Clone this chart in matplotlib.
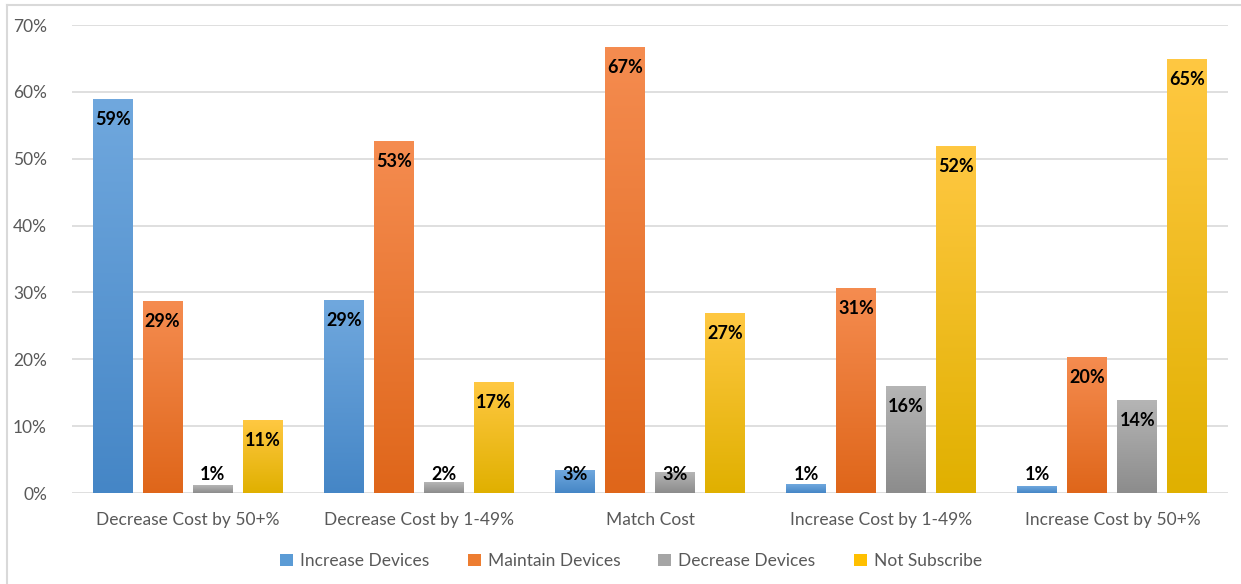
import numpy as np
import matplotlib
matplotlib.use("Agg")
import matplotlib.pyplot as plt
from matplotlib.colors import LinearSegmentedColormap
from matplotlib.patches import Patch
from matplotlib.lines import Line2D

plt.rcParams['font.family'] = ['Lato', 'DejaVu Sans']

# data (fractions)
categories = ["Decrease Cost by 50+%", "Decrease Cost by 1-49%", "Match Cost",
              "Increase Cost by 1-49%", "Increase Cost by 50+%"]
series_names = ["Increase Devices", "Maintain Devices", "Decrease Devices", "Not Subscribe"]
increase_devices = [0.589, 0.288, 0.033, 0.012, 0.009]
maintain_devices = [0.287, 0.526, 0.666, 0.306, 0.202]
decrease_devices = [0.011, 0.015, 0.031, 0.160, 0.138]
not_subscribe = [0.108, 0.166, 0.268, 0.519, 0.648]
labels_increase = ["59%", "29%", "3%", "1%", "1%"]
labels_maintain = ["29%", "53%", "67%", "31%", "20%"]
labels_decrease = ["1%", "2%", "3%", "16%", "14%"]
labels_not = ["11%", "17%", "27%", "52%", "65%"]

series = [increase_devices, maintain_devices, decrease_devices, not_subscribe]
series_labels = [labels_increase, labels_maintain, labels_decrease, labels_not]
# (bottom colour, top colour, legend colour)
colours = [("#4586c6", "#70a8de", "#5b9bd5"),
           ("#df661a", "#f58c50", "#ed7d31"),
           ("#8c8c8c", "#b5b5b5", "#a5a5a5"),
           ("#e0b000", "#ffc842", "#ffc000")]

W, H = 1241, 584
fig = plt.figure(figsize=(W / 100, H / 100), dpi=100)
ax = fig.add_axes([72 / W, 1 - 493 / H, (1228 - 72) / W, (493 - 25) / H])

text_col = "#595959"
x = np.arange(len(categories))
width = 0.173
pitch = 0.216
px_per_unit = (493 - 25) / 0.70

for i, (vals, labs, (c0, c1, _)) in enumerate(zip(series, series_labels, colours)):
    cmap = LinearSegmentedColormap.from_list("g%d" % i, [c0, c1])
    grad = np.linspace(0, 1, 256).reshape(-1, 1)
    for j, v in enumerate(vals):
        xc = x[j] + (i - 1.5) * pitch
        x0, x1 = xc - width / 2, xc + width / 2
        ax.imshow(grad, extent=[x0, x1, 0, v], origin="lower", aspect="auto",
                  cmap=cmap, zorder=2, interpolation="bilinear")
        ly = max(v - 20 / px_per_unit, 18 / px_per_unit)
        ax.text(xc, ly, labs[j], ha="center", va="center", fontsize=13,
                fontweight="bold", color="black", zorder=4)

ax.set_xlim(-0.5, len(categories) - 0.5)
ax.set_ylim(0, 0.70)
ax.set_yticks(np.arange(0, 0.71, 0.1))
ax.set_yticklabels(["%d%%" % round(t * 100) for t in np.arange(0, 0.71, 0.1)])
ax.set_xticks(x)
ax.set_xticklabels(categories)
ax.tick_params(axis="both", length=0, labelsize=12.5, labelcolor=text_col)
ax.tick_params(axis="y", pad=18)
ax.tick_params(axis="x", pad=14)
ax.grid(axis="y", color="#d9d9d9", lw=1.2, zorder=0)
ax.set_axisbelow(True)
for s in ax.spines.values():
    s.set_visible(False)

handles = [Patch(facecolor=c[2], edgecolor="none") for c in colours]
fig.legend(handles, series_names, loc="center", bbox_to_anchor=(631 / W, 1 - 561 / H),
           ncol=4, frameon=False, fontsize=12.5, labelcolor=text_col,
           handlelength=0.75, handleheight=0.75, handletextpad=0.4, columnspacing=2.2)

# faint chart border
fig.add_artist(Line2D([7 / W, 7 / W], [0, 1 - 5 / H], color="#d9d9d9", lw=1.5))
fig.add_artist(Line2D([7 / W, 1], [1 - 5 / H, 1 - 5 / H], color="#d9d9d9", lw=1.5))

fig.savefig("out.png", dpi=100)
